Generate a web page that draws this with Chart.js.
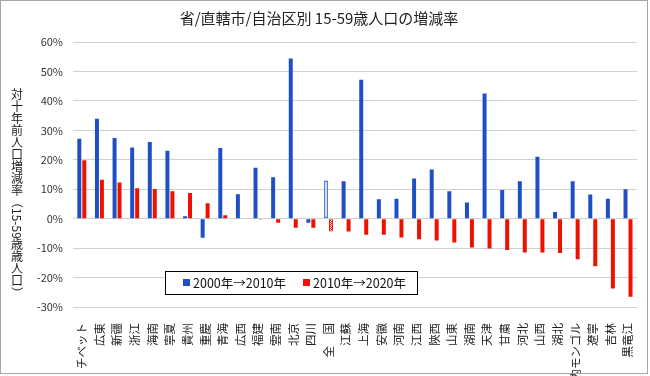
<!DOCTYPE html>
<html>
<head>
<meta charset="utf-8">
<script src="https://cdn.jsdelivr.net/npm/chart.js@4.4.1/dist/chart.umd.min.js"></script>
<style>
  html, body { margin: 0; padding: 0; background: #fff; }
</style>
</head>
<body>
<canvas id="grafica" width="650" height="376"></canvas>
<script>
const regiones = ['チベット', '広東', '新疆', '浙江', '海南', '寧夏', '貴州', '重慶', '青海', '広西',
  '福建', '雲南', '北京', '四川', '全　国', '江蘇', '上海', '安徽', '河南', '江西', '陝西', '山東',
  '湖南', '天津', '甘粛', '河北', '山西', '湖北', '内モンゴル', '遼寧', '吉林', '黒竜江'];

// 増減率 (%)
const cambio_2000_2010 = [27.1, 33.9, 27.4, 24.2, 26.0, 23.1, 0.8, -6.5, 24.0, 8.3,
  17.3, 14.1, 54.4, -1.4, 13.0, 12.7, 47.2, 6.6, 6.8, 13.6, 16.7, 9.3,
  5.5, 42.5, 9.7, 12.7, 21.0, 2.3, 12.7, 8.2, 6.8, 10.0];
const cambio_2010_2020 = [19.8, 13.2, 12.3, 10.3, 10.1, 9.3, 8.7, 5.2, 1.2, 0,
  -0.3, -1.4, -3.1, -3.1, -4.4, -4.4, -5.5, -5.5, -6.4, -7.0, -7.4, -8.1,
  -9.8, -10.1, -10.6, -11.5, -11.5, -11.7, -13.8, -16.2, -23.7, -26.5];

const series = ['2000年→2010年', '2010年→2020年'];
const titulo = '省/直轄市/自治区別 15-59歳人口の増減率';
const titulo_y = '対十年前人口増減率（15-59歳歳人口）';
const total = '全　国';

const azul = '#1f4fc4';
const rojo = '#f01000';
const fuente = '"Noto Sans CJK JP", sans-serif';

const ctx = document.getElementById('grafica').getContext('2d');

// 全国 の赤い棒は網掛け
function rayado() {
  const c = document.createElement('canvas');
  c.width = 2; c.height = 2;
  const g = c.getContext('2d');
  g.fillStyle = '#fff'; g.fillRect(0, 0, 2, 2);
  g.fillStyle = rojo; g.fillRect(0, 0, 1, 1); g.fillRect(1, 1, 1, 1);
  return ctx.createPattern(c, 'repeat');
}

const esTotal = regiones.map(r => r === total);

const marco = {
  id: 'marco',
  afterDraw(chart) {
    const c = chart.ctx;
    c.save();
    c.strokeStyle = '#a6a6a6';
    c.lineWidth = 1;
    c.strokeRect(0.5, 0.5, 647, 373);
    c.restore();
  }
};

// 縦書きの軸タイトル: 漢字は正立、数字と括弧は右へ90度回転
function dibujarVertical(c, texto, x, y0, tam) {
  c.font = tam + 'px ' + fuente;
  c.textBaseline = 'middle';
  let y = y0;
  const partes = texto.match(/[0-9\-（）]+|[^0-9\-（）]/g);
  partes.forEach(p => {
    if (/^[0-9\-（）]+$/.test(p)) {
      const w = c.measureText(p).width;
      c.save();
      c.translate(x, y);
      c.rotate(Math.PI / 2);
      c.textAlign = 'left';
      c.fillText(p, 0, 0);
      c.restore();
      y += w;
    } else {
      c.textAlign = 'center';
      c.fillText(p, x, y + tam / 2);
      y += tam;
    }
  });
}

const tituloEje = {
  id: 'tituloEje',
  afterDraw(chart) {
    const c = chart.ctx;
    c.save();
    c.fillStyle = '#222';
    dibujarVertical(c, titulo_y, 17, 88, 12);
    c.restore();
  }
};

const leyenda = {
  id: 'leyenda',
  afterDraw(chart) {
    const c = chart.ctx;
    c.save();
    c.fillStyle = '#fff';
    c.fillRect(165.5, 271.5, 252, 23);
    c.strokeStyle = '#000';
    c.lineWidth = 1;
    c.strokeRect(165.5, 271.5, 252, 23);
    c.font = '12.5px ' + fuente;
    c.textBaseline = 'middle';
    let x = 183;
    chart.data.datasets.forEach(ds => {
      c.fillStyle = ds.colorLeyenda;
      c.fillRect(x, 279, 7, 7);
      c.fillStyle = '#111';
      c.textAlign = 'left';
      c.fillText(ds.label, x + 10, 283);
      x += 120;
    });
    c.restore();
  }
};

new Chart(ctx, {
  type: 'bar',
  data: {
    labels: regiones,
    datasets: [
      {
        label: series[0],
        data: cambio_2000_2010,
        colorLeyenda: azul,
        backgroundColor: esTotal.map(t => t ? '#fff' : azul),
        borderColor: esTotal.map(t => t ? '#4f7fd8' : azul),
        borderWidth: esTotal.map(t => t ? 1.5 : 0),
        borderSkipped: false
      },
      {
        label: series[1],
        data: cambio_2010_2020,
        colorLeyenda: rojo,
        backgroundColor: esTotal.map(t => t ? rayado() : rojo),
        borderColor: rojo,
        borderWidth: esTotal.map(t => t ? 1 : 0),
        borderSkipped: false
      }
    ]
  },
  options: {
    responsive: false,
    animation: false,
    categoryPercentage: 0.565,
    barPercentage: 0.8,
    layout: { padding: { left: 0, right: 12, top: 0, bottom: 0 } },
    plugins: {
      legend: { display: false },
      tooltip: { enabled: false },
      title: {
        display: true,
        text: titulo,
        color: '#222',
        padding: { top: 9, bottom: 15 },
        font: { family: fuente, size: 15, weight: 'normal' }
      }
    },
    scales: {
      x: {
        grid: { display: false },
        border: { display: false },
        ticks: {
          autoSkip: false,
          minRotation: 90,
          maxRotation: 90,
          padding: 8,
          color: '#222',
          font: { family: fuente, size: 11.5 }
        },
        afterFit(scale) { scale.height = 69; }
      },
      y: {
        min: -30,
        max: 60,
        grid: { color: '#d0d0d0', lineWidth: 1, drawTicks: false },
        border: { display: false },
        ticks: {
          stepSize: 10,
          padding: 10,
          color: '#333',
          font: { family: fuente, size: 11 },
          callback: v => v + '%'
        },
        afterFit(scale) { scale.width = 73; }
      }
    }
  },
  plugins: [tituloEje, leyenda, marco]
});
</script>
</body>
</html>
